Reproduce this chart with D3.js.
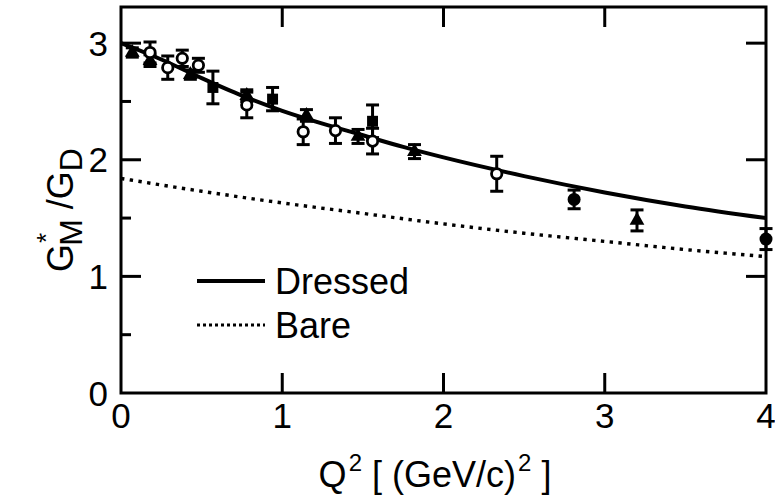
<!DOCTYPE html>
<html>
<head>
<meta charset="utf-8">
<script src="https://cdn.jsdelivr.net/npm/d3@7"></script>
<style>
  body { margin: 0; background: #fff; }
  svg { display: block; font-family: "Liberation Sans", Arial, Helvetica, sans-serif; }
</style>
</head>
<body>
<svg id="chart"></svg>
<script>
// Theory curves (Q^2, G*_M/G_D)
const dressedQ2 = [0, 0.25, 0.5, 0.75, 1, 1.25, 1.5, 1.75, 2, 2.5, 3, 3.5, 4];
const dressedVal = [3.0, 2.86, 2.70, 2.55, 2.42, 2.31, 2.21, 2.11, 2.02, 1.86, 1.72, 1.60, 1.50];
const bareQ2 = [0, 0.5, 1, 1.5, 2, 2.5, 3, 3.5, 4];
const bareVal = [1.84, 1.73, 1.63, 1.54, 1.45, 1.37, 1.30, 1.23, 1.17];

// Data points
const triQ2 = [0.07, 0.18, 0.43, 0.78, 1.15, 1.47, 1.82, 3.20];
const triVal = [2.92, 2.85, 2.73, 2.55, 2.38, 2.20, 2.07, 1.48];
const triErr = [0.04, 0.05, 0.04, 0.05, 0.05, 0.06, 0.06, 0.09];

const sqQ2 = [0.57, 0.94, 1.56];
const sqVal = [2.62, 2.52, 2.33];
const sqErr = [0.14, 0.10, 0.14];

const dotQ2 = [2.81, 4.0];
const dotVal = [1.66, 1.32];
const dotErr = [0.08, 0.09];

const openQ2 = [0.18, 0.29, 0.38, 0.48, 0.78, 1.13, 1.33, 1.56, 2.33];
const openVal = [2.92, 2.79, 2.87, 2.81, 2.47, 2.24, 2.25, 2.16, 1.88];
const openErr = [0.09, 0.10, 0.07, 0.06, 0.11, 0.11, 0.11, 0.11, 0.15];

const xTicks = [0, 1, 2, 3, 4];
const yTicks = [0, 1, 2, 3];
const yMinor = [0.5, 1.5, 2.5];

const width = 775, height = 500;
const margin = { top: 7, right: 9, bottom: 107, left: 121 };

const svg = d3.select("#chart").attr("width", width).attr("height", height);

const x = d3.scaleLinear().domain([0, 4]).range([margin.left, width - margin.right]);
const y = d3.scaleLinear().domain([0, 3.31]).range([height - margin.bottom, margin.top]);

const x0 = x.range()[0], x1 = x.range()[1];
const y0 = y.range()[0], y1 = y.range()[1];

svg.append("defs").append("clipPath").attr("id", "clip")
  .append("rect").attr("x", x0).attr("y", y1).attr("width", x1 - x0).attr("height", y0 - y1);

// Curves
const line = d3.line().x(d => x(d[0])).y(d => y(d[1])).curve(d3.curveMonotoneX);
const plot = svg.append("g").attr("clip-path", "url(#clip)");

plot.append("path")
  .datum(bareQ2.map((q, i) => [q, bareVal[i]]))
  .attr("d", line).attr("fill", "none").attr("stroke", "#000")
  .attr("stroke-width", 3.4).attr("stroke-dasharray", "3.4,5.4");

plot.append("path")
  .datum(dressedQ2.map((q, i) => [q, dressedVal[i]]))
  .attr("d", line).attr("fill", "none").attr("stroke", "#000")
  .attr("stroke-width", 4);

// Error bars
function errorBars(qs, vs, es) {
  const g = svg.append("g").attr("stroke", "#000").attr("stroke-width", 3);
  qs.forEach((q, i) => {
    const cx = x(q), top = y(vs[i] + es[i]), bot = y(vs[i] - es[i]);
    g.append("line").attr("x1", cx).attr("x2", cx).attr("y1", top).attr("y2", bot);
    g.append("line").attr("x1", cx - 6.5).attr("x2", cx + 6.5).attr("y1", top).attr("y2", top);
    g.append("line").attr("x1", cx - 6.5).attr("x2", cx + 6.5).attr("y1", bot).attr("y2", bot);
  });
}
errorBars(triQ2, triVal, triErr);
errorBars(sqQ2, sqVal, sqErr);
errorBars(dotQ2, dotVal, dotErr);
errorBars(openQ2, openVal, openErr);

const sym = (type, size) => d3.symbol().type(type).size(size);

svg.append("g").selectAll("path").data(triQ2).join("path")
  .attr("transform", (d, i) => `translate(${x(d)},${y(triVal[i])})`)
  .attr("d", sym(d3.symbolTriangle, 95)).attr("fill", "#000");

svg.append("g").selectAll("path").data(sqQ2).join("path")
  .attr("transform", (d, i) => `translate(${x(d)},${y(sqVal[i])})`)
  .attr("d", sym(d3.symbolSquare, 120)).attr("fill", "#000");

svg.append("g").selectAll("circle").data(dotQ2).join("circle")
  .attr("cx", d => x(d)).attr("cy", (d, i) => y(dotVal[i])).attr("r", 6.5).attr("fill", "#000");

svg.append("g").selectAll("circle").data(openQ2).join("circle")
  .attr("cx", d => x(d)).attr("cy", (d, i) => y(openVal[i])).attr("r", 5.2)
  .attr("fill", "#fff").attr("stroke", "#000").attr("stroke-width", 2.8);

// Frame and ticks
const frame = svg.append("g").attr("stroke", "#000").attr("stroke-width", 3).attr("fill", "none");
frame.append("rect").attr("x", x0).attr("y", y1).attr("width", x1 - x0).attr("height", y0 - y1);

xTicks.slice(1, -1).forEach(t => {
  frame.append("line").attr("x1", x(t)).attr("x2", x(t)).attr("y1", y0).attr("y2", y0 - 20);
  frame.append("line").attr("x1", x(t)).attr("x2", x(t)).attr("y1", y1).attr("y2", y1 + 20);
});
yTicks.slice(1).forEach(t => {
  frame.append("line").attr("x1", x0).attr("x2", x0 + 20).attr("y1", y(t)).attr("y2", y(t));
  frame.append("line").attr("x1", x1).attr("x2", x1 - 20).attr("y1", y(t)).attr("y2", y(t));
});
yMinor.forEach(t => {
  frame.append("line").attr("x1", x0).attr("x2", x0 + 10).attr("y1", y(t)).attr("y2", y(t));
});

// Tick labels
svg.append("g").selectAll("text").data(xTicks).join("text")
  .attr("x", d => x(d)).attr("y", y0 + 35)
  .attr("text-anchor", "middle").attr("font-size", 35).text(d => d);

svg.append("g").selectAll("text").data(yTicks).join("text")
  .attr("x", x0 - 13).attr("y", d => y(d) + 12.5)
  .attr("text-anchor", "end").attr("font-size", 35).text(d => d);

// Axis titles
const xt = svg.append("text").attr("x", 435).attr("y", 487)
  .attr("text-anchor", "middle").attr("font-size", 36);
xt.append("tspan").text("Q");
xt.append("tspan").attr("font-size", 24).attr("dy", -16).attr("dx", 2).text("2");
xt.append("tspan").attr("dy", 16).text(" [ (GeV/c)");
xt.append("tspan").attr("font-size", 24).attr("dy", -16).attr("dx", 2).text("2");
xt.append("tspan").attr("dy", 16).text(" ]");

const yt = svg.append("text").attr("transform", "translate(73,210) rotate(-90)")
  .attr("text-anchor", "middle").attr("font-size", 36);
yt.append("tspan").text("G");
yt.append("tspan").attr("font-size", 26).attr("dy", -18).attr("dx", 1).text("*");
yt.append("tspan").attr("font-size", 32).attr("dy", 27).attr("dx", -13).text("M");
yt.append("tspan").attr("dy", -9).text(" /G");
yt.append("tspan").attr("font-size", 32).attr("dy", 9).text("D");

// Legend
const legend = svg.append("g");
legend.append("line").attr("x1", 197).attr("x2", 265).attr("y1", 281).attr("y2", 281)
  .attr("stroke", "#000").attr("stroke-width", 4);
legend.append("line").attr("x1", 197).attr("x2", 265).attr("y1", 325).attr("y2", 325)
  .attr("stroke", "#000").attr("stroke-width", 3.2).attr("stroke-dasharray", "3,3");
legend.append("text").attr("x", 275).attr("y", 294).attr("font-size", 36).text("Dressed");
legend.append("text").attr("x", 275).attr("y", 338).attr("font-size", 36).text("Bare");
</script>
</body>
</html>
